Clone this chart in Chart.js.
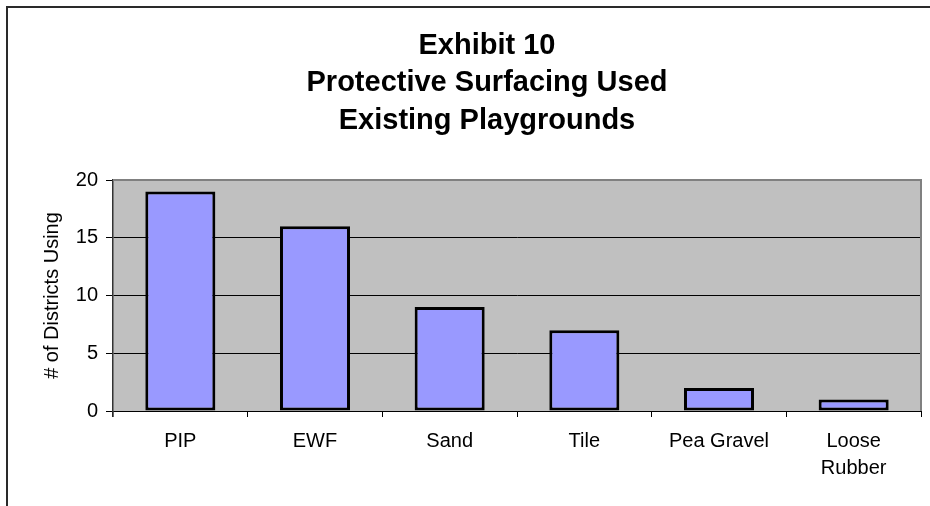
<!DOCTYPE html>
<html>
<head>
<meta charset="utf-8">
<script src="https://cdn.jsdelivr.net/npm/chart.js@4/dist/chart.umd.min.js"></script>
<style>
  html, body { margin: 0; padding: 0; background: #fff; }
  #wrap { width: 930px; height: 506px; position: relative; }
</style>
</head>
<body>
<div id="wrap"><canvas id="c" width="930" height="506"></canvas></div>
<script>
// Surfacing types and number of districts using each
const categories = ['PIP', 'EWF', 'Sand', 'Tile', 'Pea Gravel', ['Loose', 'Rubber']];
const districtsUsing = [19, 16, 9, 7, 2, 1];
const titleLines = ['Exhibit 10', 'Protective Surfacing Used', 'Existing Playgrounds'];
const yAxisLabel = '# of Districts Using';

const FONT = "'Liberation Sans', Arial, Helvetica, sans-serif";

// Grey plot background, grey top/right frame and the outer frame lines
const frame = {
  id: 'frame',
  beforeDraw(chart) {
    const { ctx, chartArea: a } = chart;
    ctx.save();
    ctx.fillStyle = '#c0c0c0';
    ctx.fillRect(a.left, a.top, a.right - a.left, a.bottom - a.top);
    ctx.restore();
  },
  afterDatasetsDraw(chart) {
    const { ctx, chartArea: a } = chart;
    ctx.save();
    ctx.strokeStyle = '#808080';
    ctx.lineWidth = 2;
    ctx.beginPath();
    ctx.moveTo(a.left, a.top);
    ctx.lineTo(a.right, a.top);
    ctx.lineTo(a.right, a.bottom);
    ctx.stroke();
    // y axis line continues a little below the x axis
    ctx.strokeStyle = '#333';
    ctx.lineWidth = 1.5;
    ctx.beginPath();
    ctx.moveTo(a.left, a.bottom);
    ctx.lineTo(a.left, a.bottom + 6);
    ctx.stroke();
    ctx.restore();
  },
  afterDraw(chart) {
    const { ctx, width, height } = chart;
    ctx.save();
    ctx.strokeStyle = '#2a2a2a';
    ctx.lineWidth = 2;
    ctx.beginPath();
    ctx.moveTo(7, height);
    ctx.lineTo(7, 7);
    ctx.lineTo(width, 7);
    ctx.stroke();
    ctx.restore();
  }
};

new Chart(document.getElementById('c'), {
  type: 'bar',
  data: {
    labels: categories,
    datasets: [{
      data: districtsUsing,
      backgroundColor: '#9999ff',
      borderColor: '#000000',
      borderWidth: 3,
      borderSkipped: false,
      barPercentage: 0.52,
      categoryPercentage: 1.0
    }]
  },
  options: {
    responsive: false,
    animation: false,
    devicePixelRatio: 1,
    layout: { padding: { left: 53, right: 9, top: 0, bottom: 0 } },
    plugins: {
      legend: { display: false },
      tooltip: { enabled: false },
      title: {
        display: true,
        text: titleLines,
        color: '#000',
        font: { family: FONT, size: 29, weight: 'bold', lineHeight: 1.29 },
        padding: { top: 27, bottom: 40.8 }
      }
    },
    scales: {
      x: {
        offset: true,
        afterFit(s) { s.height = 95; },
        grid: {
          offset: true,
          drawOnChartArea: false,
          drawTicks: true,
          tickLength: 6,
          color: '#000',
          lineWidth: 1
        },
        border: { display: true, color: '#000', width: 1 },
        ticks: {
          color: '#000',
          font: { family: FONT, size: 20, lineHeight: 1.35 },
          padding: 11,
          maxRotation: 0,
          autoSkip: false
        }
      },
      y: {
        min: 0,
        max: 20,
        afterFit(s) { s.width = 60; },
        grid: {
          color: (c) => (c.tick && c.tick.value === 20 ? '#808080' : '#000'),
          lineWidth: 1,
          drawTicks: true,
          tickLength: 7,
          tickColor: '#000'
        },
        border: { display: true, color: '#333', width: 1.5 },
        ticks: {
          stepSize: 5,
          color: '#000',
          font: { family: FONT, size: 20 },
          padding: 8
        },
        title: {
          display: true,
          text: yAxisLabel,
          color: '#000',
          font: { family: FONT, size: 20, lineHeight: 1 },
          padding: { top: -11, bottom: 0 }
        }
      }
    }
  },
  plugins: [frame]
});
</script>
</body>
</html>
